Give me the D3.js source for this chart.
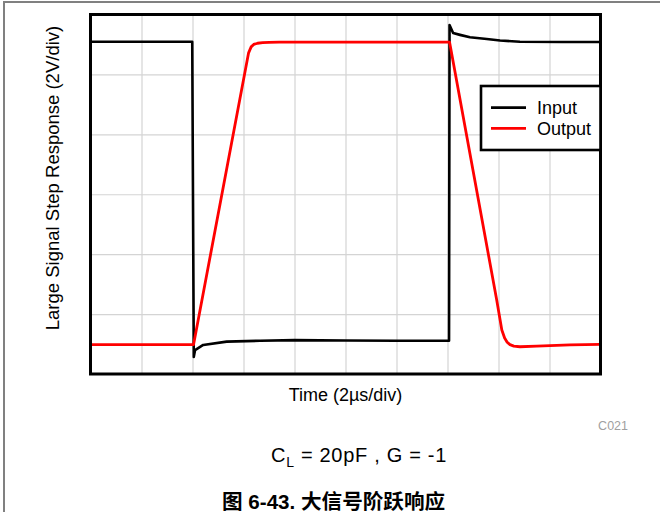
<!DOCTYPE html>
<meta charset="utf-8">
<style>
body { margin: 0; background: #fff; }
text { font-family: "Liberation Sans", Arial, "Noto Sans CJK SC", sans-serif; }
.grid line { stroke: #d4d4d4; stroke-width: 1.2; }
.grid .domain { display: none; }
</style>
<body>
<script src="https://d3js.org/d3.v7.min.js"></script>
<script>

// ticks (grid only, no labels)
var timeTicks = [0, 2, 4, 6, 8, 10, 12, 14, 16, 18, 20];   // us
var voltTicks = [-6, -4, -2, 0, 2, 4, 6];                    // V

// input trace (us, V)
var inputTime = [0, 3.99, 4.05, 4.1, 4.42, 5.34, 6.65, 8.0, 10.0, 12.0, 14.06, 14.08, 14.22, 14.49, 14.88, 15.54, 16.06, 16.84, 18.5, 20];
var inputVolt = [5.09, 5.09, -5.43, -5.2, -5.03, -4.92, -4.89, -4.87, -4.88, -4.89, -4.89, 5.65, 5.38, 5.32, 5.24, 5.18, 5.13, 5.09, 5.08, 5.08];

// output trace (us, V)
var outputTime = [0, 4.04, 6.2, 6.3, 6.4, 6.55, 6.75, 7.0, 7.4, 10.0, 14.08, 15.93, 16.13, 16.24, 16.34, 16.45, 16.6, 16.84, 17.5, 18.8, 20];
var outputVolt = [-5.02, -5.02, 4.72, 4.92, 5.0, 5.04, 5.06, 5.07, 5.08, 5.08, 5.08, -3.53, -4.53, -4.8, -4.94, -5.02, -5.07, -5.09, -5.07, -5.03, -5.01];

var seriesNames = ["Input", "Output"];
var seriesColors = ["#000000", "#ff0000"];

// plot box
var margin = {top: 14.5, left: 90.5},
    width = 510,
    height = 359.5;

var svg = d3.select("body").append("svg")
    .attr("width", 660)
    .attr("height", 512);

// page frame (gray lines top / left)
svg.append("line").attr("x1", 3).attr("x2", 660).attr("y1", 2).attr("y2", 2)
   .attr("stroke", "#808080").attr("stroke-width", 2);
svg.append("line").attr("x1", 4).attr("x2", 4).attr("y1", 1).attr("y2", 512)
   .attr("stroke", "#808080").attr("stroke-width", 2);

var g = svg.append("g")
    .attr("transform", "translate(" + margin.left + "," + margin.top + ")");

var x = d3.scaleLinear().domain([0, 20]).range([0, width]);
var y = d3.scaleLinear().domain([-6, 6]).range([height, 0]);

// grid
g.append("g").attr("class", "grid")
  .attr("transform", "translate(0," + height + ")")
  .call(d3.axisBottom(x).tickValues(timeTicks.slice(1, -1)).tickSize(-height).tickFormat(""));
g.append("g").attr("class", "grid")
  .call(d3.axisLeft(y).tickValues(voltTicks.slice(1, -1)).tickSize(-width).tickFormat(""));

var line = d3.line()
    .x(function(d) { return x(d[0]); })
    .y(function(d) { return y(d[1]); });

var inputData = d3.zip(inputTime, inputVolt);
var outputData = d3.zip(outputTime, outputVolt);

g.append("path").datum(inputData)
  .attr("fill", "none").attr("stroke", seriesColors[0]).attr("stroke-width", 2.6)
  .attr("stroke-linejoin", "round")
  .attr("d", line);

g.append("path").datum(outputData)
  .attr("fill", "none").attr("stroke", seriesColors[1]).attr("stroke-width", 2.8)
  .attr("stroke-linejoin", "round")
  .attr("d", line);

// plot border
g.append("rect")
  .attr("width", width).attr("height", height)
  .attr("fill", "none").attr("stroke", "#000").attr("stroke-width", 3);

// legend
var legend = svg.append("g").attr("transform", "translate(481,86)");
legend.append("rect")
  .attr("width", 119.5).attr("height", 64)
  .attr("fill", "#fff").attr("stroke", "#000").attr("stroke-width", 2.6);
seriesNames.forEach(function(name, i) {
  legend.append("line")
    .attr("x1", 10).attr("x2", 45)
    .attr("y1", 21.7 + i * 20.6).attr("y2", 21.7 + i * 20.6)
    .attr("stroke", seriesColors[i]).attr("stroke-width", 2.8);
  legend.append("text")
    .attr("x", 56).attr("y", 28.3 + i * 20.6)
    .style("font-size", "18px")
    .text(name);
});

// axis labels
svg.append("text")
  .attr("x", margin.left + width / 2).attr("y", 401)
  .attr("text-anchor", "middle")
  .style("font-size", "18px")
  .text("Time (2µs/div)");

svg.append("text")
  .attr("transform", "translate(59,178) rotate(-90)")
  .attr("text-anchor", "middle")
  .style("font-size", "18.5px")
  .text("Large Signal Step Response (2V/div)");

svg.append("text")
  .attr("x", 628).attr("y", 430)
  .attr("text-anchor", "end")
  .attr("fill", "#a0a0a0")
  .style("font-size", "12.5px")
  .text("C021");

// conditions
var cond = svg.append("text")
  .attr("x", 271).attr("y", 462)
  .style("font-size", "20px")
  .style("letter-spacing", "0.7px");
cond.append("tspan").text("C");
cond.append("tspan").attr("dy", 5).style("font-size", "14px").text("L");
cond.append("tspan").attr("dy", -5).text(" = 20pF\u00a0, G = -1");

// caption
svg.append("text")
  .attr("x", 222).attr("y", 509)
  .style("font-size", "20.6px").style("font-weight", "bold")
  .text("图 6-43. 大信号阶跃响应");

</script>
</body>
